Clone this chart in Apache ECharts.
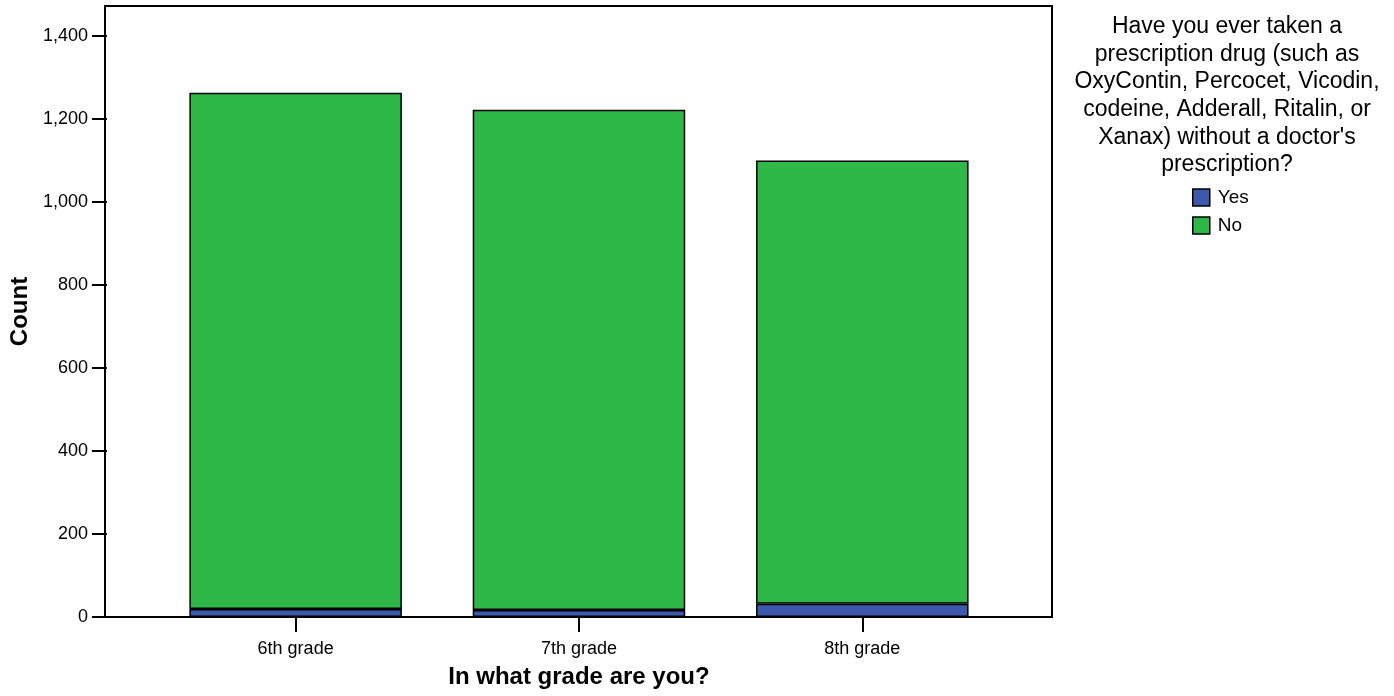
<!DOCTYPE html>
<html>
<head>
<meta charset="utf-8">
<script src="https://cdn.jsdelivr.net/npm/echarts@6/dist/echarts.min.js"></script>
<style>html,body{margin:0;padding:0;background:#fff;}#c{width:1394px;height:696px;}</style>
</head>
<body>
<div id="c"></div>
<script>
const categories = ['6th grade', '7th grade', '8th grade'];
const yesValues = [19, 17, 32];
const noValues = [1244, 1205, 1068];
const yTicks = [0, 200, 400, 600, 800, 1000, 1200, 1400];
const seriesNames = ['Yes', 'No'];
const legendTitle = "Have you ever taken a\nprescription drug (such as\nOxyContin, Percocet, Vicodin,\ncodeine, Adderall, Ritalin, or\nXanax) without a doctor's\nprescription?";
const xTitle = 'In what grade are you?';
const yTitle = 'Count';

const FONT = "'Liberation Sans', Arial, sans-serif";
const chart = echarts.init(document.getElementById('c'), null, {renderer: 'canvas'});
const fmt = v => String(v).replace(/\B(?=(\d{3})+(?!\d))/g, ',');
const barStyle = (color) => ({color: color, borderColor: '#000', borderWidth: 1.5});

chart.setOption({
  animation: false,
  backgroundColor: '#fff',
  textStyle: {fontFamily: FONT},
  title: {
    text: legendTitle,
    left: 1222,
    top: 8,
    textAlign: 'center',
    textStyle: {fontFamily: FONT, fontSize: 23, fontWeight: 'normal', color: '#000', lineHeight: 27.6}
  },
  legend: {
    data: seriesNames,
    orient: 'vertical',
    left: 1187,
    top: 183,
    itemWidth: 17,
    itemHeight: 17,
    itemGap: 9,
    icon: 'rect',
    selectedMode: false,
    itemStyle: {borderColor: '#000', borderWidth: 1.5},
    textStyle: {fontFamily: FONT, fontSize: 19, color: '#000', padding: [0, 0, 0, 3]}
  },
  graphic: [{
    type: 'rect',
    shape: {x: 105, y: 6, width: 947, height: 611},
    style: {fill: 'none', stroke: '#000', lineWidth: 2},
    z: 100,
    silent: true
  }],
  grid: {left: 152, right: 390, top: 6, bottom: 79, containLabel: false},
  xAxis: {
    type: 'category',
    data: categories,
    boundaryGap: true,
    axisLine: {show: false},
    axisTick: {show: true, alignWithLabel: true, length: 15, lineStyle: {color: '#000', width: 2}},
    axisLabel: {fontFamily: FONT, fontSize: 18, color: '#000', margin: 23},
    name: xTitle,
    nameLocation: 'middle',
    nameGap: 48,
    nameTextStyle: {fontFamily: FONT, fontSize: 24, fontWeight: 'bold', color: '#000'}
  },
  yAxis: {
    type: 'value',
    min: 0,
    max: 1472,
    interval: 200,
    offset: 47,
    splitLine: {show: false},
    axisLine: {show: false},
    axisTick: {show: true, length: 15, customValues: yTicks, lineStyle: {color: '#000', width: 2}},
    axisLabel: {fontFamily: FONT, fontSize: 18, color: '#000', margin: 19, customValues: yTicks, formatter: fmt},
    name: yTitle,
    nameLocation: 'middle',
    nameGap: 74,
    nameTextStyle: {fontFamily: FONT, fontSize: 24, fontWeight: 'bold', color: '#000'}
  },
  series: [
    {name: seriesNames[0], type: 'bar', stack: 'total', data: yesValues, barWidth: '75%', itemStyle: barStyle('#3E58AC'), emphasis: {disabled: true}},
    {name: seriesNames[1], type: 'bar', stack: 'total', data: noValues, barWidth: '75%', itemStyle: barStyle('#2EB848'), emphasis: {disabled: true}}
  ]
});
</script>
</body>
</html>
